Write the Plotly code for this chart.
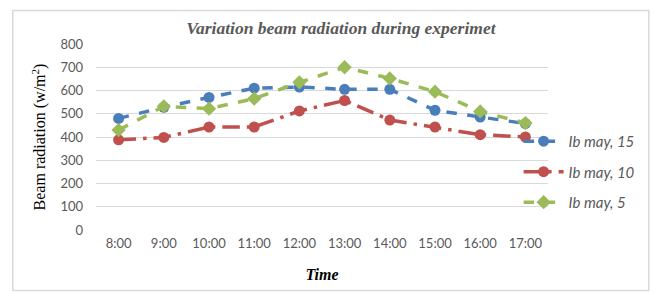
import plotly.graph_objects as go

times = ["8:00", "9:00", "10:00", "11:00", "12:00", "13:00", "14:00", "15:00", "16:00", "17:00"]
ib_may_15 = [480, 528, 570, 610, 615, 605, 605, 515, 486, 458]
ib_may_10 = [388, 398, 443, 443, 512, 557, 473, 443, 410, 400]
ib_may_5 = [430, 532, 522, 565, 635, 700, 652, 595, 510, 460]
y_ticks = [0, 100, 200, 300, 400, 500, 600, 700, 800]

fig = go.Figure()
series = [
    ("Ib may, 15", ib_may_15, "#4a7ebb", "dash", "circle"),
    ("Ib may, 10", ib_may_10, "#c0504d", "longdashdot", "circle"),
    ("Ib may, 5", ib_may_5, "#9bbb59", "dash", "diamond"),
]
for i, (name, vals, col, dash, sym) in enumerate(series):
    fig.add_trace(go.Scatter(
        x=times, y=vals, name=name, mode="lines+markers",
        line=dict(color=col, width=3.5, dash=dash),
        marker=dict(color=col, size=11, symbol=sym),
        legendgroup=f"g{i}",
    ))

fig.update_layout(
    width=662, height=293,
    margin=dict(l=96, r=114, t=44, b=63, autoexpand=False),
    paper_bgcolor="white", plot_bgcolor="white",
    title=dict(text="<b><i>Variation beam radiation during experimet</i></b>",
               font=dict(family="Liberation Serif", size=17.5, color="#595959"),
               x=0.515, xanchor="center", y=0.905, yanchor="middle"),
    xaxis=dict(range=[-0.5, 9.5], showgrid=False, showline=False, zeroline=False, ticks="", automargin=False,
               tickfont=dict(family="Lato", size=13, color="#595959"), ticklabelstandoff=4,
               title=dict(text="<b><i>Time</i></b>", font=dict(family="Liberation Serif", size=16, color="black"),
                          standoff=18)),
    yaxis=dict(range=[0, 800], tickvals=y_ticks, showgrid=True, gridcolor="#d9d9d9", gridwidth=1,
               zeroline=False, showline=False, ticks="", automargin=False,
               tickfont=dict(family="Lato", size=13, color="#595959"), ticklabelstandoff=12,
               title=dict(text="Beam radiation (w/m<sup>2</sup>)",
                          font=dict(family="Liberation Serif", size=16, color="black"), standoff=10)),
    legend=dict(x=0.935, y=0.565, xanchor="left", yanchor="top", bgcolor="rgba(0,0,0,0)",
                font=dict(family="Lato", size=15, color="#595959", style="italic"),
                tracegroupgap=8, itemwidth=40),
    shapes=[dict(type="rect", xref="paper", yref="paper", x0=-0.184, x1=1.223, y0=-0.325, y1=1.18,
                 line=dict(color="#d9d9d9", width=1.5), layer="below")],
)

fig.write_html("out.html", config={"displayModeBar": False},
               post_script="document.body.style.margin='0';document.body.style.overflow='hidden';")
